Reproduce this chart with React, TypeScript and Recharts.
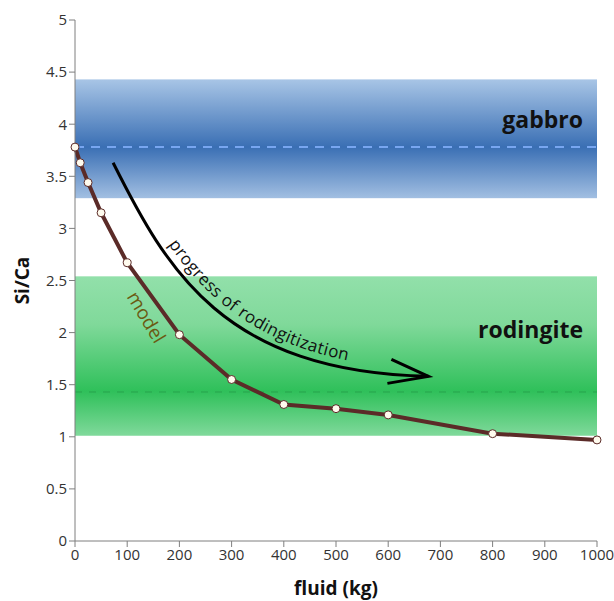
import React from 'react';
import { LineChart, Line, XAxis, YAxis, ReferenceArea, ReferenceLine, ReferenceDot } from 'recharts';

// model curve
const fluidKg = [0, 10, 25, 50, 100, 200, 300, 400, 500, 600, 800, 1000];
const siCa = [3.78, 3.63, 3.44, 3.15, 2.67, 1.98, 1.55, 1.31, 1.27, 1.21, 1.03, 0.97];

const xTicks = [0, 100, 200, 300, 400, 500, 600, 700, 800, 900, 1000];
const yTicks = [0, 0.5, 1, 1.5, 2, 2.5, 3, 3.5, 4, 4.5, 5];

// composition bands: [low, high, mean]
const gabbroBand = [3.29, 4.43, 3.78];
const rodingiteBand = [1.01, 2.54, 1.43];

// arrow annotation in data space: [x start, y start, x end, y end]
const arrowBox = [73, 3.63, 677, 1.58];
const modelLabelAt = [134, 2.14];

const data = fluidKg.map((x, i) => ({ x, y: siCa[i] }));

const FONT = '"Open Sans", "DejaVu Sans", sans-serif';

const BandShape = (label: string, dy: number) => (props: any) => {
  const { x, y, width, height, fill } = props;
  return (
    <g>
      <rect x={x} y={y} width={width} height={height} fill={fill} />
      <text
        x={x + width - 14}
        y={y + dy}
        textAnchor="end"
        fontFamily={FONT}
        fontWeight="bold"
        fontSize={23}
        fill="#111"
      >
        {label}
      </text>
    </g>
  );
};

const ArrowShape = (props: any) => {
  const { x, y, width: w, height: h } = props;
  const x1 = x + w;
  const y1 = y + h;
  const curve = (ox: number, oy: number) =>
    `M${x + ox},${y + oy} C${x + 0.17 * w + ox},${y + 0.5 * h + oy} ${x + 0.35 * w + ox},${y + 0.98 * h + oy} ${x1 + ox},${y1 + oy}`;
  return (
    <g>
      <path d={curve(0, 0)} fill="none" stroke="#000" strokeWidth={3} />
      <path id="progressPath" d={curve(5, -7)} fill="none" stroke="none" />
      <path
        d={`M${x1 - 37},${y1 - 17} L${x1},${y1} L${x1 - 41},${y1 + 7}`}
        fill="none"
        stroke="#000"
        strokeWidth={3}
      />
      <text fontFamily={FONT} fontSize={17} fill="#111" letterSpacing={0.4}>
        <textPath href="#progressPath" startOffset="25%">
          progress of rodingitization
        </textPath>
      </text>
    </g>
  );
};

const ModelLabel = (props: any) => {
  const { cx, cy } = props;
  return (
    <text
      x={cx}
      y={cy}
      transform={`rotate(59 ${cx} ${cy})`}
      textAnchor="middle"
      dominantBaseline="middle"
      fontFamily={FONT}
      fontSize={19}
      fill="#6b5a12"
    >
      model
    </text>
  );
};

export default function App() {
  return (
    <div style={{ padding: '8px 0 0 8px' }}>
      {/* drop the body margin so the chart fits the window without a scrollbar */}
      <style>{'body { margin: 0; }'}</style>
      <LineChart width={606} height={593} data={data} margin={{ top: 12, right: 17, bottom: 30, left: 17 }}>
        <defs>
          <linearGradient id="blueBand" x1="0" y1="0" x2="0" y2="1">
            <stop offset="0" stopColor="#a8c5e6" />
            <stop offset="0.57" stopColor="#3a6fb4" />
            <stop offset="1" stopColor="#a2bfe2" />
          </linearGradient>
          <linearGradient id="greenBand" x1="0" y1="0" x2="0" y2="1">
            <stop offset="0" stopColor="#92e0aa" />
            <stop offset="0.3" stopColor="#80d99a" />
            <stop offset="0.72" stopColor="#2fc05a" />
            <stop offset="1" stopColor="#80d99b" />
          </linearGradient>
        </defs>
        <XAxis
          dataKey="x"
          type="number"
          domain={[0, 1000]}
          ticks={xTicks}
          interval={0}
          stroke="#7f7f7f"
          tickSize={6}
          tick={{ fill: '#333', fontSize: 15, fontFamily: FONT }}
          height={30}
          label={{
            value: 'fluid (kg)',
            position: 'insideBottom',
            offset: -24,
            style: { fontFamily: FONT, fontWeight: 'bold', fontSize: 19, fill: '#111' },
          }}
        />
        <YAxis
          type="number"
          domain={[0, 5]}
          ticks={yTicks}
          interval={0}
          stroke="#7f7f7f"
          tickSize={6}
          width={50}
          tick={{ fill: '#333', fontSize: 15, fontFamily: FONT }}
          label={{
            value: 'Si/Ca',
            angle: -90,
            position: 'insideLeft',
            offset: -3,
            style: { fontFamily: FONT, fontWeight: 'bold', fontSize: 19, fill: '#111', textAnchor: 'middle' },
          }}
        />
        <ReferenceArea
          y1={gabbroBand[0]}
          y2={gabbroBand[1]}
          x1={0}
          x2={1000}
          fill="url(#blueBand)"
          fillOpacity={1}
          shape={BandShape('gabbro', 49)}
        />
        <ReferenceArea
          y1={rodingiteBand[0]}
          y2={rodingiteBand[1]}
          x1={0}
          x2={1000}
          fill="url(#greenBand)"
          fillOpacity={1}
          shape={BandShape('rodingite', 62)}
        />
        <ReferenceLine y={gabbroBand[2]} stroke="#78a6f0" strokeWidth={2} strokeDasharray="9 7" />
        <ReferenceLine y={rodingiteBand[2]} stroke="#27a34d" strokeWidth={1} strokeDasharray="7 7" />
        <ReferenceArea
          x1={arrowBox[0]}
          x2={arrowBox[2]}
          y1={arrowBox[3]}
          y2={arrowBox[1]}
          shape={ArrowShape}
        />
        <ReferenceDot x={modelLabelAt[0]} y={modelLabelAt[1]} r={0} shape={ModelLabel} />
        <Line
          dataKey="y"
          type="linear"
          stroke="#5b2b28"
          strokeWidth={4}
          dot={{ r: 4, fill: '#fffbee', stroke: '#5b2b28', strokeWidth: 1 }}
          isAnimationActive={false}
        />
      </LineChart>
    </div>
  );
}
